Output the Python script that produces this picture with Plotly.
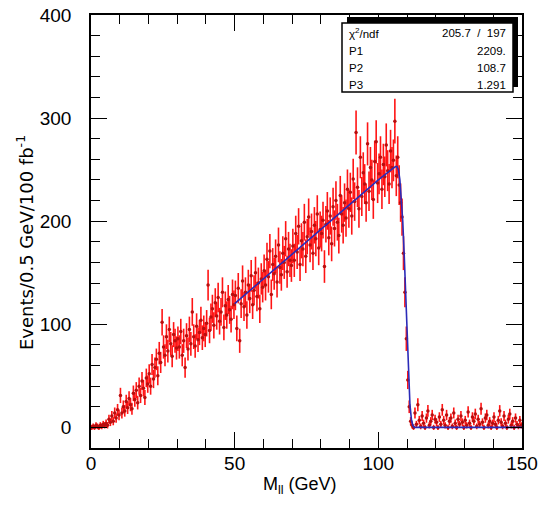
import numpy as np
import plotly.graph_objects as go

# ---------------- data ----------------
bin_width = 0.5
events = [
    # 0-10 GeV
    0, 1, 0, 2, 1, 0, 2, 1, 3, 2, 4, 2, 8, 5, 11, 6, 14, 9, 17, 12,
    # 10-20
    31, 14, 20, 16, 25, 19, 28, 22, 18, 33, 27, 36, 24, 40, 31, 45, 38, 29, 48, 42,
    # 20-30
    52, 40, 61, 47, 58, 66, 50, 72, 63, 102, 78, 70, 88, 74, 95, 81, 69, 90, 84, 77,
    # 30-40
    86, 78, 93, 70, 84, 58, 89, 76, 95, 81, 112, 88, 79, 98, 85, 92, 104, 87, 96, 90,
    # 40-50
    101, 138, 94, 107, 115, 99, 121, 108, 126, 103, 112, 131, 97, 118, 109, 124, 114, 105, 129, 119,
    # 50-60
    128, 96, 135, 84, 120, 142, 117, 131, 109, 138, 125, 147, 119, 133, 150, 127, 140, 115, 144, 136,
    # 60-70
    152, 138, 163, 146, 171, 129, 158, 149, 166, 141, 177, 155, 148, 169, 160, 183, 151, 173, 162, 157,
    # 70-80
    176, 162, 188, 170, 195, 158, 181, 173, 199, 166, 185, 204, 177, 190, 169, 196, 183, 207, 174, 192,
    # 80-90
    188, 201, 156, 197, 210, 184, 205, 178, 214, 193, 220, 199, 186, 225, 207, 196, 218, 203, 231, 212,
    # 90-100
    228, 205, 241, 219, 286, 233, 212, 262, 224, 247, 236, 218, 275, 229, 252, 240, 221, 258, 277, 237,
    # 100-110
    246, 262, 231, 255, 243, 274, 249, 236, 268, 252, 259, 297, 244, 262, 235, 218, 204, 169, 131, 86,
    # 110-120
    46, 20, 6, 2, 0, 14, 3, 22, 7, 1, 11, 4, 0, 9, 16, 2, 6, 12, 0, 8,
    # 120-130
    5, 0, 10, 3, 17, 7, 2, 12, 0, 6, 9, 1, 14, 4, 0, 8, 3, 11, 5, 0,
    # 130-140
    7, 2, 15, 4, 0, 10, 6, 13, 1, 8, 3, 18, 5, 0, 9, 12, 2, 6, 0, 4,
    # 140-150
    10, 3, 0, 7, 16, 5, 1, 11, 4, 0, 8, 13, 2, 6, 0, 9, 3, 1, 7, 2,
]

fit_mass = [50, 100, 105, 106, 106.5, 107, 107.5, 108, 108.5, 109, 109.5,
            110, 110.5, 111, 111.5, 112, 112.5, 150]
fit_events = [120, 240, 251, 253, 253, 250, 240, 222, 200, 168, 128,
              88, 50, 22, 8, 2, 0, 0]

stat_labels = ["χ<sup>2</sup>/ndf", "P1", "P2", "P3"]
stat_values = ["205.7  /  197", "2209.", "108.7", "1.291"]

x_ticks = [0, 50, 100, 150]
y_ticks = [0, 100, 200, 300, 400]

# ---------------- figure ----------------
vals = np.array(events, dtype=float)
centers = np.arange(len(vals)) * bin_width + bin_width / 2
errs = 1.25 * np.sqrt(vals + 4)

W, H = 541, 505
L, R, T, B = 91, 522, 15, 448


def px(xp):
    return (xp - L) / (R - L)


def py(yp):
    return (B - yp) / (B - T)


fig = go.Figure()
fig.add_trace(go.Scatter(
    x=centers, y=vals, mode="markers",
    marker=dict(color="#b80e0e", size=3.5, line=dict(width=0)),
    error_y=dict(type="data", array=errs, color="#ff1414", thickness=1.6, width=0),
    error_x=dict(type="constant", value=bin_width / 2, color="#ff1414", thickness=1.8, width=0),
    showlegend=False, hoverinfo="skip",
))
fig.add_trace(go.Scatter(
    x=fit_mass, y=fit_events, mode="lines",
    line=dict(color="#2b2bb8", width=1.6),
    showlegend=False, hoverinfo="skip",
))

font = "Liberation Sans, Arial, sans-serif"
axis_common = dict(
    showgrid=False, zeroline=False, showline=True, linecolor="black", linewidth=1.5,
    mirror="ticks", ticks="inside", ticklen=16, tickwidth=1.2, tickcolor="black",
    tickfont=dict(family=font, size=19, color="black"),
    automargin=False,
)
fig.update_xaxes(range=[0, 150], tickvals=x_ticks, ticktext=[str(v) for v in x_ticks],
                 minor=dict(ticks="inside", ticklen=9, dtick=10, tickcolor="black", tickwidth=1.2),
                 ticklabelstandoff=-3, **axis_common)
fig.update_yaxes(range=[-20, 400], tickvals=y_ticks, ticktext=[str(v) for v in y_ticks],
                 minor=dict(ticks="inside", ticklen=9, dtick=20, tick0=0, tickcolor="black", tickwidth=1.2),
                 ticklabelstandoff=14, **axis_common)

shapes = [
    dict(type="rect", xref="paper", yref="paper", x0=px(347), x1=px(518), y0=py(87), y1=py(17),
         fillcolor="black", line=dict(width=0), layer="above"),
    dict(type="rect", xref="paper", yref="paper", x0=px(342), x1=px(513), y0=py(92), y1=py(23),
         fillcolor="white", line=dict(color="black", width=1.5), layer="above"),
]

annotations = []
row_y = [33, 51, 68, 85]
for lab, val, yy in zip(stat_labels, stat_values, row_y):
    annotations.append(dict(xref="paper", yref="paper", x=px(347), y=py(yy), text=lab,
                            showarrow=False, xanchor="left", yanchor="middle",
                            font=dict(family=font, size=11.5, color="black")))
    annotations.append(dict(xref="paper", yref="paper", x=px(508), y=py(yy), text=val,
                            showarrow=False, xanchor="right", yanchor="middle",
                            font=dict(family=font, size=11.5, color="black")))

annotations.append(dict(xref="paper", yref="paper", x=px(300), y=py(485),
                        text="M<sub>ll</sub> (GeV)", showarrow=False,
                        xanchor="center", yanchor="middle",
                        font=dict(family=font, size=18, color="black")))
annotations.append(dict(xref="paper", yref="paper", x=px(25), y=py(243),
                        text="Events/0.5 GeV/100 fb<sup>-1</sup>", showarrow=False,
                        textangle=-90, xanchor="center", yanchor="middle",
                        font=dict(family="DejaVu Sans, sans-serif", size=18, color="black")))

fig.update_layout(
    width=W, height=H, autosize=False,
    margin=dict(l=L, r=W - R, t=T, b=H - B, pad=0),
    paper_bgcolor="white", plot_bgcolor="white",
    shapes=shapes, annotations=annotations,
)

fig.write_html(
    "out.html",
    config={"displayModeBar": False, "responsive": False},
    post_script="document.body.style.margin='0';document.body.style.overflow='hidden';",
)
